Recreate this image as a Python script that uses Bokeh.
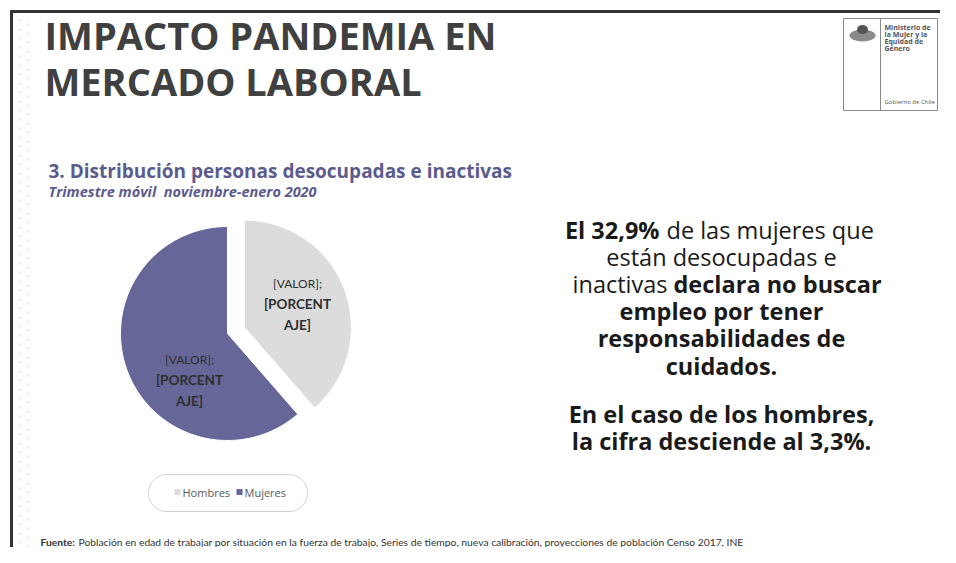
import numpy as np
from bokeh.plotting import figure
from bokeh.models import Range1d
from bokeh.core.properties import value
from bokeh.embed import file_html
from bokeh.resources import INLINE

# ---- data ----
categories = ["Hombres", "Mujeres"]
shares = [38.6, 61.4]
colors = ["#dcdcdc", "#666699"]
label_top = ["[VALOR];", "[VALOR];"]
label_mid = ["[PORCENT", "[PORCENT"]
label_bot = ["AJE]", "AJE]"]

title_lines = ["IMPACTO PANDEMIA EN", "MERCADO LABORAL"]
subtitle = "3. Distribución personas desocupadas e inactivas"
subtitle2 = "Trimestre móvil\u00a0 noviembre-enero 2020"
footnote_bold = "Fuente:"
footnote_text = "Población en edad de trabajar por situación en la fuerza de trabajo, Series de tiempo, nueva calibración, proyecciones de población Censo 2017, INE"

W, H = 940, 547
p = figure(width=W, height=H, output_backend="svg", toolbar_location=None,
           x_range=Range1d(0, W), y_range=Range1d(H, 0), min_border=0)
p.axis.visible = False
p.grid.visible = False
p.outline_line_color = None
p.background_fill_color = "white"

OS = value("Open Sans")
LT = value("Lato")

# ---- slide frame ----
p.segment(x0=[10], y0=[11], x1=[940], y1=[11], line_color="#333333", line_width=3)
p.segment(x0=[11], y0=[10], x1=[11], y1=[547], line_color="#333333", line_width=3)
dy = np.arange(20, 548, 9)
p.scatter(x=np.concatenate([np.full(len(dy), 19), np.full(len(dy), 27)]),
          y=np.concatenate([dy, dy + 4]), size=2, color="#dddddd", line_color=None)

# ---- titles ----
p.text(x=[44, 44], y=[34, 80], text=title_lines, text_font=OS, text_font_style="bold",
       text_font_size="38px", text_color="#404040", text_baseline="middle")
p.text(x=[48], y=[170], text=[subtitle], text_font=OS, text_font_style="bold",
       text_font_size="19px", text_color="#5b5b8e", text_baseline="middle")
p.text(x=[48], y=[191], text=[subtitle2], text_font=OS, text_font_style="bold italic",
       text_font_size="14.5px", text_color="#5b5b8e", text_baseline="middle")

# ---- logo ----
p.rect(x=[890], y=[64], width=94, height=92, fill_color=None, line_color="#8a8a8a", line_width=1)
p.segment(x0=[880], y0=[18], x1=[880], y1=[110], line_color="#8a8a8a", line_width=1)
p.ellipse(x=[862], y=[35], width=[26], height=[12], fill_color="#8a8a8a", line_color=None)
p.ellipse(x=[862], y=[29], width=[11], height=[9], fill_color="#555555", line_color=None)
p.text(x=[884] * 4, y=[27, 34, 41, 48], text=["Ministerio de", "la Mujer y la", "Equidad de", "Género"],
       text_font=OS, text_font_style="bold", text_font_size="7px", text_color="#555555",
       text_baseline="middle")
p.text(x=[884], y=[101], text=["Gobierno de Chile"], text_font=OS, text_font_size="6px",
       text_color="#555555", text_baseline="middle")

# ---- pie (exploded Hombres) ----
cx, cy, r, explode = 227.0, 333.0, 107.0, 18.0
fr = np.array(shares) / sum(shares)
ends = np.cumsum(fr) * 2 * np.pi
starts = ends - fr * 2 * np.pi
xs, ys = [], []
for i, (a0, a1) in enumerate(zip(starts, ends)):
    mid = (a0 + a1) / 2
    off = explode if i == 0 else 0.0
    ox, oy = cx + off * np.sin(mid), cy - off * np.cos(mid)
    t = np.linspace(a0, a1, 120)
    xs.append(list(np.concatenate([[ox], ox + r * np.sin(t)])))
    ys.append(list(np.concatenate([[oy], oy - r * np.cos(t)])))
p.patches(xs=xs, ys=ys, fill_color=colors, line_color="white", line_width=1)

lab_x = [297, 189]
lab_y = [283, 359]
p.text(x=lab_x, y=lab_y, text=label_top, text_font=LT, text_font_size="12px",
       text_color="#2e2e2e", text_align="center", text_baseline="middle")
p.text(x=lab_x, y=[v + 20 for v in lab_y], text=label_mid, text_font=LT, text_font_style="bold",
       text_font_size="13.5px", text_color="#2e2e2e", text_align="center", text_baseline="middle")
p.text(x=lab_x, y=[v + 41 for v in lab_y], text=label_bot, text_font=LT, text_font_style="bold",
       text_font_size="13.5px", text_color="#2e2e2e", text_align="center", text_baseline="middle")

# ---- legend ----
bx0, bx1, by0, by1 = 148.0, 307.0, 474.0, 511.0
rr = (by1 - by0) / 2
tr = np.linspace(-np.pi / 2, np.pi / 2, 40)
tl = np.linspace(np.pi / 2, 3 * np.pi / 2, 40)
sx = np.concatenate([bx1 - rr + rr * np.cos(tr), bx0 + rr + rr * np.cos(tl)])
sy = np.concatenate([by0 + rr + rr * np.sin(tr), by0 + rr + rr * np.sin(tl)])
p.patch(x=sx, y=sy, fill_color="white", line_color="#cfcfcf", line_width=1)
p.scatter(x=[177, 239], y=[491.5, 491.5], marker="square", size=6, color=colors, line_color=None)
p.text(x=[182, 244], y=[491.5, 491.5], text=categories, text_font=OS, text_font_size="11px",
       text_color="#595959", text_baseline="middle")

# ---- right text block ----
rc = "#1a1a1a"
sz = "23.5px"
p.text(x=[659], y=[229], text=["El 32,9%"], text_font=OS, text_font_style="bold", text_font_size=sz,
       text_color=rc, text_align="right", text_baseline="middle")
p.text(x=[666], y=[229], text=["de las mujeres que"], text_font=OS, text_font_size=sz,
       text_color=rc, text_align="left", text_baseline="middle")
p.text(x=[721], y=[256], text=["están desocupadas e"], text_font=OS, text_font_size=sz,
       text_color=rc, text_align="center", text_baseline="middle")
p.text(x=[667], y=[283], text=["inactivas"], text_font=OS, text_font_size=sz,
       text_color=rc, text_align="right", text_baseline="middle")
p.text(x=[673], y=[283], text=["declara no buscar"], text_font=OS, text_font_style="bold",
       text_font_size=sz, text_color=rc, text_align="left", text_baseline="middle")
p.text(x=[721] * 5, y=[310, 337, 365, 413, 440],
       text=["empleo por tener", "responsabilidades de", "cuidados.",
             "En el caso de los hombres,", "la cifra desciende al 3,3%."],
       text_font=OS, text_font_style="bold", text_font_size=sz, text_color=rc,
       text_align="center", text_baseline="middle")

# ---- footnote ----
p.text(x=[40], y=[541], text=[footnote_bold], text_font=LT, text_font_style="bold",
       text_font_size="10.3px", text_color="#333333", text_baseline="middle")
p.text(x=[78], y=[541], text=[footnote_text], text_font=LT,
       text_font_size="10.3px", text_color="#333333", text_baseline="middle")

open("out.html", "w").write(file_html(p, INLINE))
